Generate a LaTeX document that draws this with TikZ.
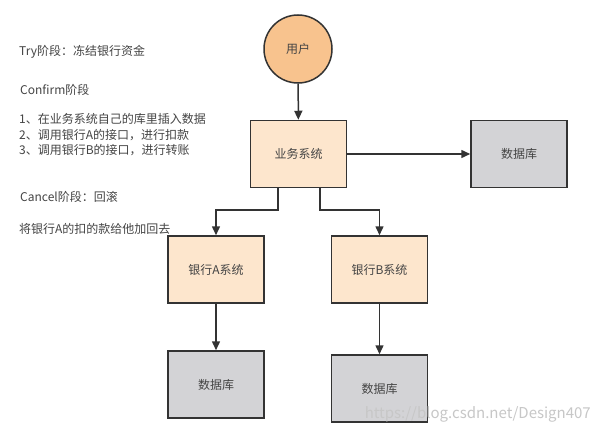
\documentclass[tikz,border=0pt]{standalone}
\usepackage{fontspec}
\setmainfont{Noto Sans CJK SC}
\usetikzlibrary{arrows.meta}
\definecolor{peach}{HTML}{FDE6CD}
\definecolor{orangec}{HTML}{F8C38E}
\definecolor{greyb}{HTML}{D3D3D6}
\definecolor{edge}{HTML}{333333}
\definecolor{txt}{HTML}{444444}
\begin{document}
\begin{tikzpicture}[x=1pt,y=-1pt,
  every node/.style={font=\fontsize{12}{14}\selectfont, text=txt},
  sysbox/.style={draw=edge, line width=1.5pt, fill=peach, minimum width=96pt, minimum height=67pt, inner sep=0pt},
  dbbox/.style={draw=edge, line width=1.5pt, fill=greyb, minimum width=96pt, minimum height=67pt, inner sep=0pt},
  usercirc/.style={draw=edge, line width=1.5pt, fill=orangec, circle, minimum size=68pt, inner sep=0pt},
  conn/.style={draw=edge, line width=1.5pt, -{Triangle[length=9pt,width=8pt]}},
  note/.style={anchor=west, inner sep=0pt, align=left}]
\useasboundingbox (0,0) rectangle (600,436);
\fill[white] (0,0) rectangle (600,436);
\node[usercirc] (user) at (298,49) {用户};
\node[sysbox] (biz) at (298.5,154) {业务系统};
\node[dbbox] (db0) at (519,154) {数据库};
\node[sysbox] (bankA) at (216,269.5) {银行A系统};
\node[sysbox] (bankB) at (379.5,269.5) {银行B系统};
\node[dbbox] (dbA) at (216,384.5) {数据库};
\node[dbbox] (dbB) at (379.5,388.5) {数据库};
\coordinate (bl) at (278,188);
\coordinate (br) at (320,188);
\draw[conn] (user) -- (biz);
\draw[conn] (biz) -- (db0);
\draw[conn] (bl) |- (216,210) -- (bankA);
\draw[conn] (br) |- (379.5,210) -- (bankB);
\draw[conn] (bankA) -- (dbA);
\draw[conn] (bankB) -- (dbB);
\node[note] (t1) at (19,52) {Try阶段：冻结银行资金};
\node[note] (t2) at (20,90) {Confirm阶段};
\node[note] (t3) at (19,119) {1、在业务系统自己的库里插入数据};
\node[note] (t4) at (19,135) {2、调用银行A的接口，进行扣款};
\node[note] (t5) at (19,150) {3、调用银行B的接口，进行转账};
\node[note] (t6) at (20,197) {Cancel阶段：回滚};
\node[note] (t7) at (19,229) {将银行A的扣的款给他加回去};
\node[anchor=east, inner sep=0pt, text=black!22, font=\fontsize{15}{17}\selectfont] (wm) at (591,414) {https://blog.csdn.net/Design407};
\end{tikzpicture}
\end{document}
